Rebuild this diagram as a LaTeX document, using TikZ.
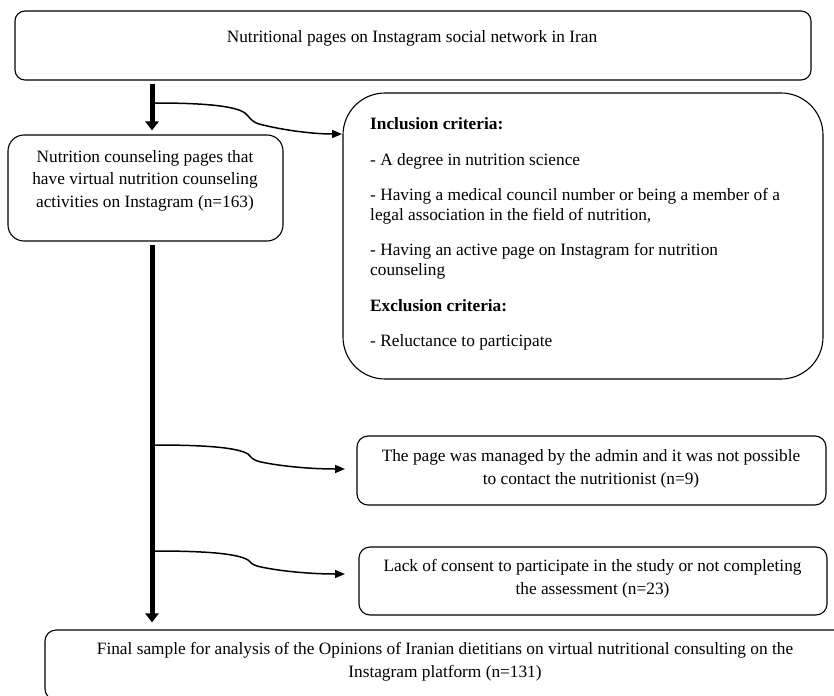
\documentclass[tikz,border=0pt]{standalone}
\usepackage{fontspec}
\setmainfont{Liberation Serif}
\usetikzlibrary{arrows.meta}
\begin{document}
\begin{tikzpicture}[x=1pt,y=-1pt,
  box/.style={draw=black, line width=1.1pt, inner sep=0pt},
  txt/.style={inner sep=0pt, font=\fontsize{17.3}{22.5}\selectfont},
  thickarrow/.style={line width=5pt, -{Triangle[width=13pt,length=9pt]}},
  curvearrow/.style={line width=1.5pt, -{Triangle[width=8pt,length=10pt]}}]
\useasboundingbox (0,0) rectangle (834,695);
\clip (0,0) rectangle (834,695);
% boxes
\node[box, rounded corners=10pt, minimum width=796pt, minimum height=69pt] (top) at (413,45.5) {};
\node[box, rounded corners=16pt, minimum width=275pt, minimum height=106pt] (pages) at (145.5,188) {};
\node[box, rounded corners=42pt, minimum width=480pt, minimum height=286pt] (crit) at (583,236) {};
\node[box, rounded corners=11pt, minimum width=469pt, minimum height=69pt] (admin) at (591.5,470.5) {};
\node[box, rounded corners=11pt, minimum width=468pt, minimum height=68pt] (lack) at (593,581) {};
\node[box, rounded corners=11pt, minimum width=805pt, minimum height=70pt] (final) at (447.5,665) {};
% texts
\node[txt] (toptext) at (412,38) {Nutritional pages on Instagram social network in Iran};
\node[txt, align=center] (pagestext) at (145,180.5) {Nutrition counseling pages that\\have virtual nutrition counseling\\activities on Instagram (n=163)};
\node[txt, align=left, anchor=west, font=\fontsize{17.3}{20}\selectfont] (crittext) at (370,234)
  {\textbf{Inclusion criteria:}\\[16pt]
   - A degree in nutrition science\\[15pt]
   - Having a medical council number or being a member of a\\
   legal association in the field of nutrition,\\[15pt]
   - Having an active page on Instagram for nutrition\\
   counseling\\[16pt]
   \textbf{Exclusion criteria:}\\[15pt]
   - Reluctance to participate};
\node[txt, align=center, font=\fontsize{17.3}{23}\selectfont] (admintext) at (591,468.5) {The page was managed by the admin and it was not possible\\to contact the nutritionist (n=9)};
\node[txt, align=center, font=\fontsize{17.3}{23}\selectfont] (lacktext) at (592.5,578.5) {Lack of consent to participate in the study or not completing\\the assessment (n=23)};
\node[txt, align=center, font=\fontsize{17.3}{23}\selectfont] (finaltext) at (445,661.5) {Final sample for analysis of the Opinions of Iranian dietitians on virtual nutritional consulting on the\\Instagram platform (n=131)};
% thick vertical arrows
\coordinate (spine) at (152,0);
\draw[thickarrow] ([yshift=-3pt]top.south -| spine) -- ([yshift=4pt]pages.north -| spine);
\draw[thickarrow] ([yshift=-3pt]pages.south -| spine) -- ([yshift=7pt]final.north -| spine);
% curved connectors
\coordinate (s1) at (155,103);
\coordinate (e1) at (342,134);
\coordinate (s2) at (155,445);
\coordinate (e2) at (345,469);
\coordinate (s3) at (155,551);
\coordinate (e3) at (345,574);
\draw[curvearrow] (s1) .. controls (205,103) and (235,106) .. (245,113)
  .. controls (250,117) and (250,121) .. (259,124)
  .. controls (282,130) and (312,134) .. (e1);
\draw[curvearrow] (s2) .. controls (210,445) and (238,448) .. (248,454)
  .. controls (251,457) and (252,460) .. (261,462)
  .. controls (285,467) and (315,469) .. (e2);
\draw[curvearrow] (s3) .. controls (210,551) and (238,554) .. (248,560)
  .. controls (251,563) and (252,565) .. (261,567)
  .. controls (285,572) and (315,574) .. (e3);
\end{tikzpicture}
\end{document}
